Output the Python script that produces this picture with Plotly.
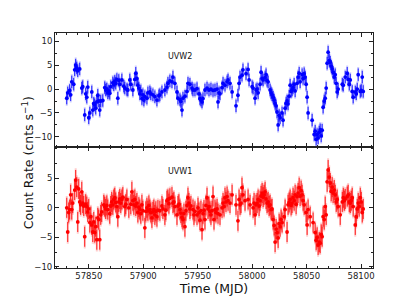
import plotly.graph_objects as go
from plotly.subplots import make_subplots

# ---- UVW2 (top panel) ----
uvw2_t = [57829.8, 57830.7, 57832.5, 57833.4, 57834.4, 57836.2, 57837.1, 57838.0, 57839.0, 57839.9,
          57841.7, 57843.6, 57844.5, 57846.3, 57847.2, 57848.2, 57849.1, 57850.0, 57851.0, 57852.8,
          57853.7, 57854.6, 57855.5, 57856.4, 57857.4, 57858.3, 57859.2, 57860.1, 57861.0, 57862.9,
          57864.7, 57865.6, 57866.6, 57867.5, 57868.4, 57869.3, 57870.2, 57872.1, 57873.0, 57873.9,
          57874.8, 57875.8, 57876.7, 57877.6, 57878.5, 57880.4, 57882.2, 57883.1, 57885.0, 57885.9,
          57887.7, 57888.6, 57890.5, 57892.3, 57893.2, 57894.2, 57895.1, 57896.0, 57896.9, 57897.8,
          57898.8, 57899.7, 57900.6, 57901.5, 57903.4, 57904.3, 57906.1, 57907.0, 57908.9, 57910.7,
          57912.6, 57914.4, 57915.3, 57917.2, 57919.9, 57921.8, 57922.7, 57924.5, 57926.4, 57927.3,
          57929.1, 57931.0, 57931.9, 57933.7, 57934.6, 57935.6, 57936.5, 57938.3, 57940.2, 57941.1,
          57942.9, 57944.8, 57945.7, 57947.5, 57949.4, 57951.2, 57952.1, 57953.0, 57954.0, 57954.9,
          57956.7, 57958.6, 57960.4, 57962.2, 57964.1, 57965.9, 57967.8, 57968.7, 57969.6, 57970.5,
          57972.4, 57973.3, 57975.1, 57977.0, 57977.9, 57979.7, 57981.6, 57985.2, 57987.0, 57988.0,
          57988.9, 57990.7, 57991.6, 57994.4, 57996.3, 57997.2, 58000.0, 58000.9, 58002.7, 58003.6,
          58004.6, 58005.5, 58007.3, 58008.2, 58009.2, 58010.1, 58011.9, 58012.8, 58013.7, 58014.7,
          58016.5, 58017.4, 58018.3, 58019.3, 58020.2, 58021.1, 58022.0, 58022.9, 58023.9, 58024.8,
          58025.7, 58027.5, 58028.4, 58030.3, 58031.2, 58032.1, 58033.0, 58034.0, 58034.9, 58035.8,
          58036.7, 58037.6, 58038.6, 58039.5, 58041.3, 58042.2, 58043.2, 58044.1, 58045.9, 58046.8,
          58047.8, 58048.7, 58049.6, 58050.5, 58051.4, 58055.1, 58057.0, 58057.9, 58058.8, 58059.7,
          58060.6, 58061.6, 58062.5, 58063.4, 58064.3, 58065.2, 58066.2, 58067.1, 58068.0, 58068.9,
          58069.8, 58070.8, 58071.7, 58072.6, 58073.5, 58074.4, 58075.4, 58076.3, 58077.2, 58078.1,
          58079.0, 58082.8, 58083.7, 58085.5, 58087.3, 58088.2, 58089.2, 58090.1, 58091.9, 58092.8,
          58094.7, 58095.6, 58096.5, 58097.4, 58099.3, 58100.2, 58101.1, 58102.0]
uvw2_rate = [-1.9, -0.8, -0.3, -1.2, 1.5, 1.0, 4.0, 5.0, 4.4, 3.8,
             4.2, 0.2, 0.5, -5.4, -1.0, -1.7, 0.4, -6.0, -5.0, -0.6,
             -4.4, -3.0, -3.3, -4.0, -2.7, -1.3, -2.5, -4.4, -2.5, -2.4,
             0.3, -0.2, 0.0, -0.8, -0.4, -0.9, 0.5, 1.3, 0.9, 1.6,
             1.2, 2.0, -1.9, 1.8, 1.0, 1.9, 0.6, 0.2, -0.1, -0.2,
             1.9, 1.0, -0.2, 2.0, 3.3, 2.2, 0.8, 0.2, -1.0, -0.4,
             -2.0, -1.2, -2.3, -1.6, -1.9, -0.8, -0.6, -1.0, -1.2, -1.6,
             -2.3, -1.4, -1.2, -0.6, -0.2, 0.4, 1.2, 1.7, 1.5, 2.5,
             1.2, -0.6, -1.9, -2.2, -2.6, -4.4, -1.9, -1.5, -0.5, 1.2,
             1.0, 0.2, -0.2, -0.2, 0.1, -1.0, -2.0, -2.3, -2.7, -2.0,
             -0.2, 0.2, -0.2, 0.0, -0.3, -0.2, 0.0, -2.7, -0.8, -1.0,
             0.3, 1.2, 0.8, 1.5, 1.9, 1.2, -0.6, -3.5, -1.3, 1.2,
             2.5, 2.9, 4.0, 3.2, 4.1, 1.9, 0.5, 0.2, -1.9, -0.2,
             0.0, -0.8, 1.0, 3.5, 2.2, 1.9, 2.4, 3.0, 1.8, 1.5,
             -0.2, -0.8, -1.2, -1.7, -2.3, -3.0, -3.5, -4.8, -7.5, -5.5,
             -6.0, -5.0, -6.5, -4.0, -3.0, -2.5, -3.1, -1.5, 0.8, -0.5,
             -0.2, 0.3, 1.0, -0.4, 1.2, 2.5, 3.3, 1.5, 3.0, 2.2,
             3.2, 2.5, 1.0, -1.7, -5.0, -6.5, -9.5, -8.8, -10.5, -9.5,
             -10.2, -9.0, -8.5, -9.8, -8.6, -3.8, -2.5, -1.9, 0.2, 5.4,
             7.7, 6.0, 5.6, 4.8, 4.2, 3.5, 2.5, 3.0, 1.2, -0.6,
             0.0, 1.0, 0.8, 2.5, 3.3, 2.0, 1.0, 1.9, -0.5, -1.7,
             -0.6, -1.0, 0.0, 3.0, -0.5, -0.3, 2.5, -0.5]
uvw2_err_stat = 1.3
uvw2_err_sys = 1.6

# ---- UVW1 (bottom panel) ----
uvw1_t = [57829.8, 57830.7, 57831.6, 57832.5, 57833.4, 57834.4, 57835.3, 57837.1, 57838.0, 57839.0,
          57839.9, 57840.8, 57841.7, 57842.6, 57843.6, 57844.5, 57845.4, 57846.3, 57847.2, 57848.2,
          57849.1, 57850.0, 57851.0, 57851.9, 57852.8, 57853.7, 57854.6, 57855.5, 57856.4, 57857.4,
          57858.3, 57859.2, 57860.1, 57861.0, 57861.9, 57863.8, 57864.7, 57865.6, 57866.6, 57867.5,
          57869.3, 57870.2, 57871.1, 57872.1, 57873.0, 57873.9, 57874.8, 57875.8, 57876.7, 57877.6,
          57878.5, 57879.4, 57880.4, 57881.3, 57883.1, 57884.0, 57885.0, 57886.8, 57888.6, 57889.6,
          57890.5, 57891.4, 57892.3, 57893.2, 57894.2, 57895.1, 57896.0, 57896.9, 57897.8, 57898.8,
          57899.7, 57901.5, 57902.4, 57903.4, 57904.3, 57905.2, 57906.1, 57907.0, 57908.0, 57908.9,
          57909.8, 57910.7, 57911.6, 57912.6, 57913.5, 57915.3, 57917.2, 57918.1, 57919.9, 57920.8,
          57921.8, 57922.7, 57923.6, 57924.5, 57926.4, 57927.3, 57928.2, 57929.1, 57931.0, 57931.9,
          57932.8, 57933.7, 57934.6, 57935.6, 57936.5, 57937.4, 57938.3, 57939.2, 57940.2, 57941.1,
          57942.0, 57942.9, 57943.8, 57945.7, 57946.6, 57947.5, 57949.4, 57950.3, 57951.2, 57952.1,
          57953.0, 57954.0, 57954.9, 57955.8, 57956.7, 57957.6, 57958.6, 57959.5, 57960.4, 57961.3,
          57962.2, 57963.2, 57964.1, 57965.0, 57965.9, 57966.8, 57967.8, 57968.7, 57970.5, 57972.4,
          57973.3, 57974.2, 57975.1, 57976.0, 57977.0, 57977.9, 57979.7, 57981.6, 57985.2, 57987.0,
          57988.0, 57988.9, 57989.8, 57990.7, 57991.6, 57993.5, 57996.3, 57998.1, 58000.9, 58001.8,
          58002.7, 58003.6, 58004.6, 58005.5, 58006.4, 58007.3, 58008.2, 58009.2, 58010.1, 58011.0,
          58011.9, 58012.8, 58013.7, 58014.7, 58015.6, 58016.5, 58017.4, 58018.3, 58019.3, 58020.2,
          58021.1, 58022.0, 58022.9, 58023.9, 58024.8, 58025.7, 58026.6, 58027.5, 58029.4, 58030.3,
          58032.1, 58033.0, 58034.0, 58034.9, 58035.8, 58036.7, 58037.6, 58038.6, 58039.5, 58040.4,
          58041.3, 58042.2, 58043.2, 58044.1, 58045.0, 58045.9, 58046.8, 58047.8, 58049.6, 58050.5,
          58051.4, 58053.3, 58056.0, 58057.9, 58058.8, 58059.7, 58060.6, 58061.6, 58062.5, 58063.4,
          58064.3, 58065.2, 58066.2, 58067.1, 58068.0, 58068.9, 58069.8, 58070.8, 58071.7, 58072.6,
          58073.5, 58074.4, 58075.4, 58076.3, 58077.2, 58078.1, 58079.0, 58080.9, 58082.8, 58083.7,
          58084.6, 58085.5, 58087.3, 58088.2, 58089.2, 58090.1, 58091.0, 58091.9, 58092.8, 58094.7,
          58095.6, 58096.5, 58097.4, 58098.3, 58099.3, 58100.2, 58101.1, 58102.0]
uvw1_rate = [0.0, -4.1, -0.8, -0.3, 2.2, -0.3, 0.8, 3.0, 4.7, 3.5,
             -2.4, 3.2, 1.0, 0.5, 2.7, 0.8, 0.3, -4.9, 0.6, 0.2,
             -0.7, -0.2, -2.5, -1.5, -2.9, -4.1, -2.4, -4.2, -3.2, -5.4,
             -1.7, -2.0, -5.4, -1.2, -0.7, 0.5, 0.2, -0.2, 0.4, -0.3,
             -1.0, 0.3, 1.0, 0.5, 1.4, 1.7, 0.9, 0.2, -1.5, 1.0,
             1.5, 0.8, 1.4, 1.8, 0.2, 0.6, 1.4, 0.0, 0.6, 2.7,
             1.2, 0.5, 1.4, 0.3, 0.8, -0.8, 0.1, -0.3, -1.0, 0.5,
             -0.5, -3.4, -0.6, 0.0, -0.5, 0.4, -0.3, -0.8, -1.7, -0.7,
             -0.3, -1.2, -0.6, -1.5, -0.4, -0.5, 0.3, -0.2, -1.2, -0.4,
             1.2, 1.4, 0.7, 1.6, 1.8, 0.8, 1.0, 0.2, -1.2, 0.3,
             0.6, -0.3, -0.9, -1.6, -2.0, -1.0, -3.2, -0.5, 0.4, 1.7,
             0.8, -0.2, 0.3, -0.3, -1.2, -0.6, -1.2, 0.0, -0.8, -2.1,
             -0.5, -3.7, -1.0, -0.4, -2.0, 0.4, 1.7, -0.2, 0.2, -0.6,
             -1.2, -0.5, 1.9, -2.0, -0.3, -0.8, -0.2, -1.0, -1.2, 0.0,
             0.8, 0.2, 1.7, 1.0, 1.9, 1.2, 0.8, 2.2, 0.5, -2.2,
             1.4, 0.5, 0.8, 3.4, 2.2, 1.2, 1.4, 0.5, 0.0, 0.8,
             -1.2, 0.5, 0.8, 1.4, 0.3, 1.2, 2.0, 2.5, 1.8, 2.2,
             2.7, 1.5, 0.8, 1.0, 0.3, 0.5, -0.3, -0.2, -2.0, -3.0,
             -5.8, -3.6, -4.2, -5.1, -2.7, -3.2, -2.0, -2.5, -1.5, -0.3,
             -4.1, 0.5, 0.9, 1.4, 0.4, 0.8, 1.7, 1.2, 2.2, 0.6,
             1.9, 2.5, 3.4, 2.0, 2.9, 2.2, 1.2, 0.5, -0.8, -2.9,
             -0.3, -1.5, -2.5, -4.2, -5.5, -5.0, -6.3, -5.8, -6.0, -4.5,
             -4.9, -1.5, -2.0, 0.2, -1.2, 4.4, 6.4, 5.2, 4.2, 2.8,
             3.5, 2.5, 3.0, 2.2, 1.0, 1.4, 0.2, -1.2, 1.0, 1.7,
             1.2, 1.5, 1.9, 2.2, 1.0, 0.8, 1.2, 1.7, 0.2, -2.9,
             -1.5, -0.2, 0.8, 0.2, 1.7, 1.0, -0.8, -0.2]
uvw1_err_stat = 1.7
uvw1_err_sys = 2.0

x_range = [57819, 58111]
top_range = [-12.1, 11.7]
bot_range = [-10.2, 10.3]
top_ticks = [-10, -5, 0, 5, 10]
bot_ticks = [-10, -5, 0, 5]

fig = make_subplots(rows=2, cols=1, shared_xaxes=True, vertical_spacing=0.0,
                    row_heights=[0.485, 0.515])


def add_series(t, v, es, esys, col, colsys, row):
    fig.add_trace(go.Scatter(
        x=t, y=v, mode="markers",
        marker=dict(size=3, color="rgba(0,0,0,0)"),
        error_y=dict(type="constant", value=esys, color=colsys, thickness=2, width=0),
        showlegend=False, hoverinfo="skip"), row=row, col=1)
    fig.add_trace(go.Scatter(
        x=t, y=v, mode="markers",
        marker=dict(size=3.8, color=col, symbol="circle"),
        error_y=dict(type="constant", value=es, color=col, thickness=0.9, width=0),
        showlegend=False), row=row, col=1)


add_series(uvw2_t, uvw2_rate, uvw2_err_stat, uvw2_err_sys, "#0000ff", "rgba(110,110,255,0.35)", 1)
add_series(uvw1_t, uvw1_rate, uvw1_err_stat, uvw1_err_sys, "#ff0000", "rgba(255,110,110,0.35)", 2)

font = "DejaVu Sans"
axis_common = dict(showline=True, linecolor="#222", linewidth=1, mirror="ticks",
                   ticks="inside", ticklen=4, tickcolor="#222", showgrid=False, zeroline=False,
                   tickfont=dict(family=font, size=8.5, color="#222"))

fig.update_xaxes(range=x_range, dtick=50, tick0=57850, tickformat="d",
                 minor=dict(ticks="inside", ticklen=2, dtick=10, tickcolor="#222"),
                 **axis_common)
fig.update_xaxes(showticklabels=False, row=1, col=1)
fig.update_xaxes(title=dict(text="Time (MJD)", font=dict(family=font, size=12.5, color="#111"),
                            standoff=1), row=2, col=1)
fig.update_yaxes(minor=dict(ticks="inside", ticklen=2, dtick=2.5, tickcolor="#222"),
                 **axis_common)
fig.update_yaxes(range=top_range, tickmode="array", tickvals=top_ticks, row=1, col=1)
fig.update_yaxes(range=bot_range, tickmode="array", tickvals=bot_ticks, row=2, col=1)

fig.add_annotation(x=57933.7, y=6.7, text="UVW2", showarrow=False, xref="x", yref="y",
                   font=dict(family=font, size=8, color="#111"))
fig.add_annotation(x=57933.7, y=6.1, text="UVW1", showarrow=False, xref="x2", yref="y2",
                   font=dict(family=font, size=8, color="#111"))
fig.add_annotation(x=-0.085, y=0.45, xref="paper", yref="paper", textangle=-90,
                   xanchor="center", yanchor="middle",
                   text="Count Rate (cnts s<sup>−1</sup>)", showarrow=False,
                   font=dict(family=font, size=12.5, color="#111"))

fig.update_layout(width=420, height=300, margin=dict(l=47, r=55, t=25, b=40),
                  paper_bgcolor="white", plot_bgcolor="white")

fig.write_html("out.html")
